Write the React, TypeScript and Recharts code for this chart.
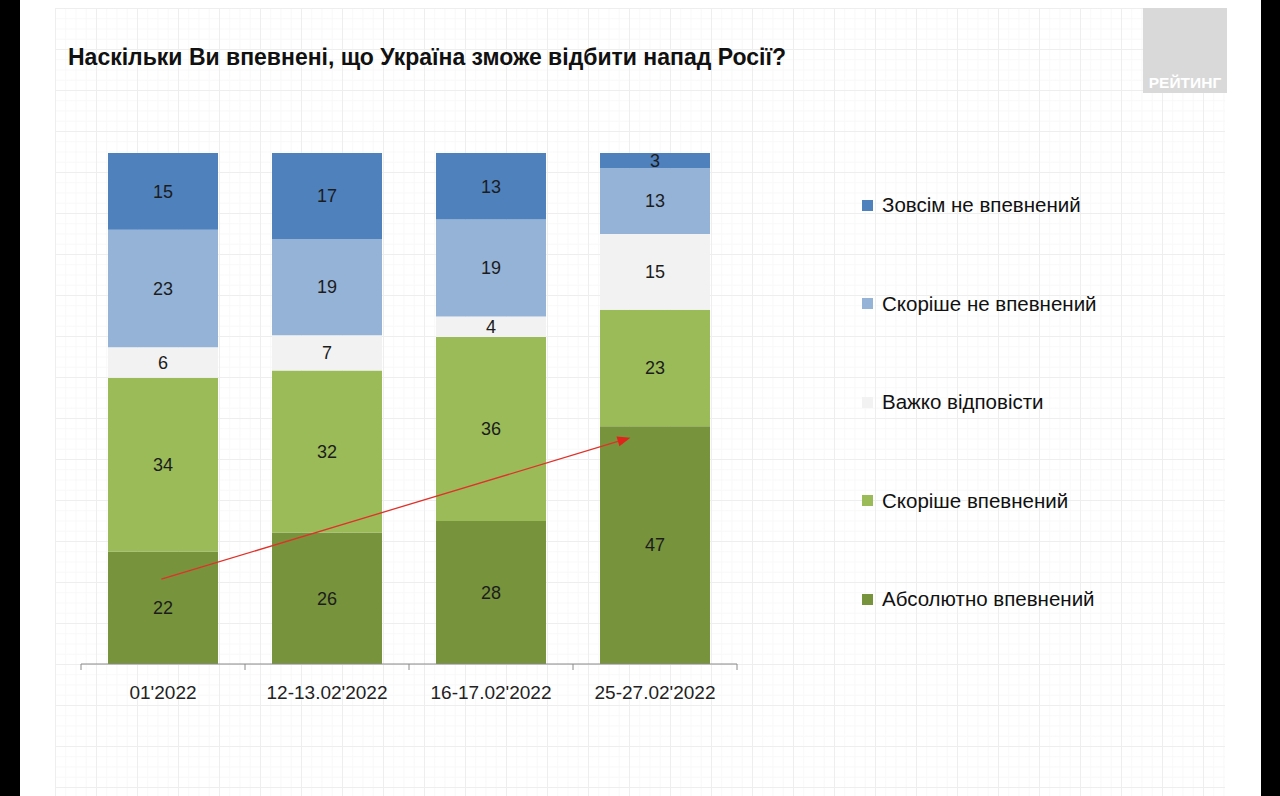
import React from "react";
import {
  BarChart,
  Bar,
  XAxis,
  YAxis,
  LabelList,
  Legend,
  ReferenceLine,
} from "recharts";

const categories = ["01'2022", "12-13.02'2022", "16-17.02'2022", "25-27.02'2022"];

const absolutelySure = [22, 26, 28, 47];
const ratherSure = [34, 32, 36, 23];
const hardToSay = [6, 7, 4, 15];
const ratherNotSure = [23, 19, 19, 13];
const notSureAtAll = [15, 17, 13, 3];

// bottom -> top of the stack
const seriesKeys = ["abs", "rather", "hard", "ratherNot", "notAtAll"];
const seriesNames = [
  "Абсолютно впевнений",
  "Скоріше впевнений",
  "Важко відповісти",
  "Скоріше не впевнений",
  "Зовсім не впевнений",
];
const seriesColors = ["#77933c", "#9bbb59", "#f2f2f2", "#95b3d7", "#4f81bd"];

// trend arrow, in (category position, share) space
const trendFrom = { x: 0.49, y: 0.166 };
const trendTo = { x: 3.35, y: 0.443 };

const boundaryTicks = [0, 1, 2, 3, 4];

const data = categories.map((cat, i) => ({
  cat,
  pos: i + 0.5,
  abs: absolutelySure[i],
  rather: ratherSure[i],
  hard: hardToSay[i],
  ratherNot: ratherNotSure[i],
  notAtAll: notSureAtAll[i],
}));

const FONT = "'Liberation Sans', Arial, sans-serif";
const LEGEND_W = 300;

function TrendArrow(props: any) {
  const { x1, y1, x2, y2 } = props;
  if (x1 == null) return null;
  const ang = Math.atan2(y2 - y1, x2 - x1);
  const len = 13;
  const half = 5;
  const bx = x2 - len * Math.cos(ang);
  const by = y2 - len * Math.sin(ang);
  const nx = -Math.sin(ang) * half;
  const ny = Math.cos(ang) * half;
  return (
    <g>
      <line x1={x1} y1={y1} x2={bx} y2={by} stroke="#e0312a" strokeWidth={1.3} />
      <polygon
        points={`${x2},${y2} ${bx + nx},${by + ny} ${bx - nx},${by - ny}`}
        fill="#e0241c"
      />
    </g>
  );
}

function LegendBox() {
  const items = seriesNames.map((n, i) => ({ n, c: seriesColors[i] })).reverse();
  return (
    <div style={{ fontFamily: FONT, width: LEGEND_W }}>
      {items.map((it) => (
        <div
          key={it.n}
          style={{ display: "flex", alignItems: "center", height: 98.5 }}
        >
          <span
            style={{
              width: 11,
              height: 11,
              background: it.c,
              marginRight: 9,
            }}
          />
          <span style={{ fontSize: 20.5, color: "#111" }}>{it.n}</span>
        </div>
      ))}
    </div>
  );
}

export default function App() {
  return (
    <div
      style={{
        position: "absolute",
        left: 0,
        top: 0,
        width: 1280,
        height: 796,
        background: "#000",
        overflow: "hidden",
      }}
    >
      <div
        style={{
          position: "absolute",
          left: 20,
          top: 0,
          width: 1241,
          height: 796,
          background: "#fff",
        }}
      />
      <div
        style={{
          position: "absolute",
          left: 55,
          top: 8,
          width: 1170,
          height: 788,
          backgroundImage:
            "linear-gradient(#eeeeee 1px, transparent 1px), linear-gradient(90deg, #eeeeee 1px, transparent 1px), linear-gradient(#f8f8f8 1px, transparent 1px), linear-gradient(90deg, #f8f8f8 1px, transparent 1px)",
          backgroundSize: "41px 41px, 41px 41px, 10.25px 10.25px, 10.25px 10.25px",
        }}
      />
      <div
        style={{
          position: "absolute",
          left: 1143,
          top: 8,
          width: 84,
          height: 85,
          background: "#d9d9d9",
          color: "#fff",
          fontFamily: FONT,
          fontWeight: 700,
          fontSize: 15.5,
          display: "flex",
          alignItems: "flex-end",
          justifyContent: "center",
          boxSizing: "border-box",
          lineHeight: "20px",
        }}
      >
        РЕЙТИНГ
      </div>
      <div
        style={{
          position: "absolute",
          left: 68,
          top: 44,
          fontFamily: FONT,
          fontWeight: 700,
          fontSize: 23,
          color: "#111",
          whiteSpace: "nowrap",
        }}
      >
        Наскільки Ви впевнені, що Україна зможе відбити напад Росії?
      </div>
      <div style={{ position: "absolute", left: 0, top: 0 }}>
        <BarChart
          width={1280}
          height={796}
          data={data}
          stackOffset="expand"
          barSize={110}
          margin={{ top: 153, right: 543 - LEGEND_W, bottom: 82, left: 81 }}
        >
          <XAxis
            xAxisId="b_cat"
            dataKey="cat"
            height={49}
            axisLine={false}
            tickLine={false}
            tickSize={0}
            tickMargin={21}
            tick={{ fontSize: 19, fill: "#222", fontFamily: FONT }}
            interval={0}
          />
          <XAxis
            xAxisId="a_ticks"
            dataKey="pos"
            type="number"
            domain={[0, 4]}
            allowDataOverflow
            ticks={boundaryTicks}
            height={1}
            tickFormatter={() => ""}
            axisLine={{ stroke: "#8a8a8a" }}
            tickLine={{ stroke: "#8a8a8a" }}
            tickSize={6}
          />
          <YAxis hide domain={[0, 1]} />
          {seriesKeys.map((k, i) => (
            <Bar
              key={k}
              dataKey={k}
              name={seriesNames[i]}
              stackId="s"
              xAxisId="b_cat"
              fill={seriesColors[i]}
              isAnimationActive={false}
            >
              <LabelList
                dataKey={k}
                position="center"
                fill="#1c1c1c"
                fontSize={18}
                fontFamily={FONT}
              />
            </Bar>
          ))}
          <ReferenceLine
            xAxisId="a_ticks"
            segment={[trendFrom, trendTo]}
            ifOverflow="visible"
            shape={TrendArrow}
          />
          <Legend
            layout="vertical"
            align="right"
            verticalAlign="top"
            content={() => <LegendBox />}
            wrapperStyle={{ left: 862, top: 156, width: LEGEND_W }}
          />
        </BarChart>
      </div>
    </div>
  );
}
